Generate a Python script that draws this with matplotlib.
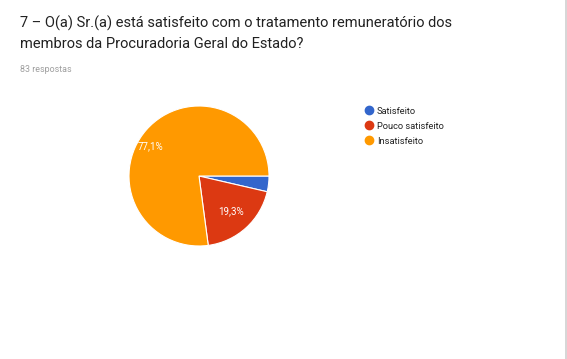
import numpy as np
import matplotlib.pyplot as plt
from matplotlib.lines import Line2D

categories = ["Satisfeito", "Pouco satisfeito", "Insatisfeito"]
counts = [3, 16, 64]
colors = ["#3366CC", "#DC3912", "#FF9900"]
title = "7 – O(a) Sr.(a) está satisfeito com o tratamento remuneratório dos\nmembros da Procuradoria Geral do Estado?"
subtitle = "83 respostas"

plt.rcParams['font.family'] = ['Roboto', 'DejaVu Sans']

W, H = 567, 359
fig = plt.figure(figsize=(W / 100, H / 100), dpi=100)
fig.patch.set_facecolor("white")

# title block, google forms style
fig.text(20 / W, 1 - 16 / H, title, fontsize=10.5, color="#212121",
         va="top", ha="left", linespacing=1.55)
fig.text(20 / W, 1 - 69 / H, subtitle, fontsize=6.4, color="#9e9e9e",
         va="center", ha="left")

# pie: centre ~ (199,176) px, radius ~70 px
cx, cy, r = 199, 176, 70
ax = fig.add_axes([(cx - r) / W, (H - cy - r) / H, 2 * r / W, 2 * r / H])


def pct(p):
    return ("%.1f%%" % p).replace(".", ",") if p > 5 else ""


wedges, texts, autotexts = ax.pie(counts, colors=colors, startangle=0,
                                  counterclock=False, autopct=pct,
                                  pctdistance=0.68, radius=1,
                                  wedgeprops=dict(edgecolor="white", linewidth=0.8),
                                  textprops=dict(color="white", fontsize=7.0))
# google puts the big label a bit further out
a = np.deg2rad(148)
autotexts[2].set_position((0.81 * np.cos(a), 0.81 * np.sin(a)))
ax.set_xlim(-1, 1)
ax.set_ylim(-1, 1)
ax.set_aspect("equal")
ax.axis("off")

handles = [Line2D([], [], marker="o", linestyle="", markersize=6,
                  markerfacecolor=c, markeredgecolor=c) for c in colors]
fig.legend(handles, categories, loc="upper left",
           bbox_to_anchor=(359 / W, 1 - 102 / H), frameon=False,
           fontsize=6.7, labelcolor="#222222", handletextpad=0.2,
           labelspacing=0.65, borderpad=0, handlelength=1.2)

# thin border at the right edge of the card
fig.add_artist(Line2D([565.5 / W, 565.5 / W], [0, 1], color="#d0d0d0", linewidth=1.2))

fig.savefig("out.png", dpi=100)
